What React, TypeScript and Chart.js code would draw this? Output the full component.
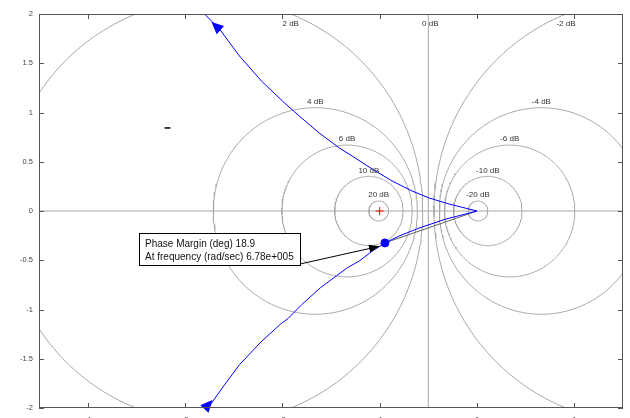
import { useEffect, useRef } from 'react';
import { Chart, registerables } from 'chart.js';

Chart.register(...registerables);

const FONT = '"Liberation Sans", Arial, Helvetica, sans-serif';

// axis ranges and ticks
const xRange = [-4.5, 1.5];
const yRange = [-2, 2];
const xTickValues = [-4, -3, -2, -1, 0, 1];
const yTickValues = [-2, -1.5, -1, -0.5, 0, 0.5, 1, 1.5, 2];

// M-circle grid (closed-loop magnitude contours, dB)
const mCircleDb = [20, 10, 6, 4, 2, 0, -2, -4, -6, -10, -20];

// Nyquist curve, branch from the origin to the top
const upperX = [-2.83, -2.8, -2.646, -2.441, -2.215, -2.0, -1.826, -1.621, -1.415, -1.282, -1.077, -0.872, -0.667, -0.492, -0.287, -0.082, 0];
const upperY = [2.04, 2.0, 1.848, 1.574, 1.32, 1.117, 0.964, 0.792, 0.64, 0.558, 0.426, 0.305, 0.203, 0.132, 0.071, 0.02, 0];

// branch from the origin to the bottom
const lowerX = [0, -0.082, -0.318, -0.595, -0.8, -0.946, -1.08, -1.21, -1.33, -1.446, -1.61, -1.8, -1.94, -2.02, -2.22, -2.44, -2.62, -2.72, -2.79];
const lowerY = [0, -0.022, -0.081, -0.173, -0.254, -0.324, -0.41, -0.508, -0.575, -0.66, -0.78, -0.95, -1.09, -1.15, -1.33, -1.56, -1.8, -1.94, -2.04];

// direction arrows on the curve: [tipX, tipY, tailX, tailY]
const upperArrow = [-2.728, 1.919, -2.626, 1.827];
const lowerArrow = [-2.718, -1.92, -2.8, -2.01];

// phase margin point
const pmX = [-0.946];
const pmY = [-0.324];
const pmLineX = [0, -0.946];
const pmLineY = [0, -0.324];
const pmText = ['Phase Margin (deg) 18.9', 'At frequency (rad/sec) 6.78e+005'];

// critical point
const critX = -1;
const critY = 0;

// small stray mark
const markX = [-3.21, -3.15];
const markY = [0.843, 0.843];

const pts = (xs: number[], ys: number[]) => xs.map((x, i) => ({ x, y: ys[i] }));

function mCircle(db: number) {
  const M = Math.pow(10, db / 20);
  const M2 = M * M;
  if (Math.abs(M2 - 1) < 1e-9) return null;
  return { c: -M2 / (M2 - 1), r: Math.abs(M / (M2 - 1)) };
}

function circlePoints(db: number) {
  const g = mCircle(db);
  if (!g) return [{ x: -0.5, y: -5 }, { x: -0.5, y: 5 }];
  const out: { x: number; y: number }[] = [];
  for (let a = 0; a <= 360; a += 1.5) {
    const t = (a * Math.PI) / 180;
    out.push({ x: g.c + g.r * Math.cos(t), y: g.r * Math.sin(t) });
  }
  return out;
}

function arrowHead(ctx: CanvasRenderingContext2D, tx: number, ty: number, fx: number, fy: number, len: number, hw: number) {
  const dx = tx - fx;
  const dy = ty - fy;
  const d = Math.hypot(dx, dy) || 1;
  const ux = dx / d;
  const uy = dy / d;
  const bx = tx - ux * len;
  const by = ty - uy * len;
  ctx.beginPath();
  ctx.moveTo(tx, ty);
  ctx.lineTo(bx - uy * hw, by + ux * hw);
  ctx.lineTo(bx + uy * hw, by - ux * hw);
  ctx.closePath();
  ctx.fill();
}

const overlay = {
  id: 'overlay',
  afterDatasetsDraw(chart: any) {
    const { ctx, chartArea: a, scales } = chart;
    const xs = scales.x;
    const ys = scales.y;
    const px = (v: number) => xs.getPixelForValue(v);
    const py = (v: number) => ys.getPixelForValue(v);
    ctx.save();

    // M-circle labels
    ctx.font = `8px ${FONT}`;
    ctx.fillStyle = '#333';
    ctx.textAlign = 'center';
    ctx.textBaseline = 'middle';
    mCircleDb.forEach((db) => {
      const label = `${db} dB`;
      const g = mCircle(db);
      if (!g) {
        ctx.fillText(label, px(-0.5) + 2, a.top + 10);
      } else if (g.r > yRange[1]) {
        const s = Math.sqrt(g.r * g.r - yRange[1] * yRange[1]);
        const xv = db > 0 ? g.c + s : g.c - s;
        ctx.fillText(label, px(xv), a.top + 10);
      } else {
        ctx.fillText(label, px(g.c), py(g.r) - 6);
      }
    });

    // critical point
    ctx.strokeStyle = '#ff0000';
    ctx.lineWidth = 1;
    const cx = px(critX);
    const cy = py(critY);
    ctx.beginPath();
    ctx.moveTo(cx - 4, cy);
    ctx.lineTo(cx + 4, cy);
    ctx.moveTo(cx, cy - 4);
    ctx.lineTo(cx, cy + 4);
    ctx.stroke();

    // curve direction arrows
    ctx.fillStyle = '#0000ff';
    [upperArrow, lowerArrow].forEach((ar) => {
      arrowHead(ctx, px(ar[0]), py(ar[1]), px(ar[2]), py(ar[3]), 12, 5.5);
    });

    // annotation box
    const dotX = px(pmX[0]);
    const dotY = py(pmY[0]);
    const bw = 161;
    const bh = 32;
    const bRight = Math.round(dotX - 85);
    const bBottom = Math.round(dotY + 22);
    const bLeft = bRight - bw;
    const bTop = bBottom - bh;
    // leader arrow
    const sx = bRight;
    const sy = bBottom - 1;
    const ddx = dotX - sx;
    const ddy = dotY - sy;
    const dd = Math.hypot(ddx, ddy);
    const tipX = dotX - (ddx / dd) * 6;
    const tipY = dotY - (ddy / dd) * 6 + 2;
    ctx.strokeStyle = '#000';
    ctx.fillStyle = '#000';
    ctx.lineWidth = 1;
    ctx.beginPath();
    ctx.moveTo(sx, sy);
    ctx.lineTo(tipX, tipY);
    ctx.stroke();
    arrowHead(ctx, tipX, tipY, sx, sy, 10, 4);

    ctx.fillStyle = '#fff';
    ctx.fillRect(bLeft, bTop, bw, bh);
    ctx.strokeStyle = '#000';
    ctx.strokeRect(bLeft + 0.5, bTop + 0.5, bw, bh);
    ctx.fillStyle = '#111';
    ctx.font = `10px ${FONT}`;
    ctx.textAlign = 'left';
    ctx.textBaseline = 'middle';
    ctx.fillText(pmText[0], bLeft + 6, bTop + 11);
    ctx.fillText(pmText[1], bLeft + 6, bTop + 24);

    // axes box
    ctx.strokeStyle = '#555';
    ctx.lineWidth = 1;
    ctx.strokeRect(Math.round(a.left) + 0.5, Math.round(a.top) + 0.5, Math.round(a.right - a.left) - 1, Math.round(a.bottom - a.top) - 1);
    // inward ticks
    const tl = 5;
    ctx.beginPath();
    xTickValues.forEach((v) => {
      const x = Math.round(px(v)) + 0.5;
      ctx.moveTo(x, a.top);
      ctx.lineTo(x, a.top + tl);
      ctx.moveTo(x, a.bottom);
      ctx.lineTo(x, a.bottom - tl);
    });
    yTickValues.forEach((v) => {
      const y = Math.round(py(v)) + 0.5;
      ctx.moveTo(a.left, y);
      ctx.lineTo(a.left + tl, y);
      ctx.moveTo(a.right, y);
      ctx.lineTo(a.right - tl, y);
    });
    ctx.stroke();
    ctx.restore();
  },
};

export default function App() {
  const ref = useRef<HTMLCanvasElement | null>(null);

  useEffect(() => {
    if (!ref.current) return;
    const gridColor = '#a8a8a8';
    const datasets: any[] = [];
    mCircleDb.forEach((db) => {
      datasets.push({
        data: circlePoints(db),
        showLine: true,
        borderColor: gridColor,
        borderWidth: 1,
        pointRadius: 0,
        order: 10,
      });
    });
    datasets.push({
      data: [{ x: -10, y: 0 }, { x: 10, y: 0 }],
      showLine: true,
      borderColor: gridColor,
      borderWidth: 1,
      pointRadius: 0,
      order: 10,
    });
    datasets.push({
      data: pts(pmLineX, pmLineY),
      showLine: true,
      borderColor: '#606060',
      borderWidth: 1,
      pointRadius: 0,
      order: 5,
    });
    datasets.push({
      data: pts(upperX, upperY),
      showLine: true,
      borderColor: '#0000ff',
      borderWidth: 1,
      pointRadius: 0,
      order: 2,
    });
    datasets.push({
      data: pts(lowerX, lowerY),
      showLine: true,
      borderColor: '#0000ff',
      borderWidth: 1,
      pointRadius: 0,
      order: 2,
    });
    datasets.push({
      data: pts(markX, markY),
      showLine: true,
      borderColor: '#000',
      borderWidth: 1.5,
      pointRadius: 0,
      order: 2,
    });
    datasets.push({
      data: pts(pmX, pmY),
      showLine: false,
      backgroundColor: '#0000ff',
      borderColor: '#0000ff',
      pointRadius: 4,
      order: 0,
    });

    const tickFont = { family: FONT, size: 7.5 };
    const chart = new Chart(ref.current, {
      type: 'scatter',
      data: { datasets },
      options: {
        animation: false,
        responsive: false,
        maintainAspectRatio: false,
        events: [],
        layout: { padding: { left: 0, right: 7, top: 14, bottom: 0 } },
        plugins: { legend: { display: false }, tooltip: { enabled: false } },
        scales: {
          x: {
            type: 'linear',
            min: xRange[0],
            max: xRange[1],
            afterBuildTicks: (s: any) => {
              s.ticks = xTickValues.map((v) => ({ value: v }));
            },
            afterFit: (s: any) => {
              s.height = 22;
            },
            grid: { display: false, drawTicks: false },
            border: { display: false },
            ticks: {
              padding: 7,
              color: '#444',
              font: tickFont,
              autoSkip: false,
              maxRotation: 0,
              callback: (v: any) => String(v),
            },
          },
          y: {
            type: 'linear',
            min: yRange[0],
            max: yRange[1],
            afterBuildTicks: (s: any) => {
              s.ticks = yTickValues.map((v) => ({ value: v }));
            },
            afterFit: (s: any) => {
              s.width = 39;
            },
            grid: { display: false, drawTicks: false },
            border: { display: false },
            ticks: {
              padding: 6,
              color: '#444',
              font: tickFont,
              autoSkip: false,
              callback: (v: any) => String(v),
            },
          },
        },
      } as any,
      plugins: [overlay as any],
    });
    return () => chart.destroy();
  }, []);

  return (
    <div style={{ position: 'fixed', left: 0, top: 0, width: 630, height: 418, overflow: 'hidden', background: '#fff' }}>
      <canvas ref={ref} width={630} height={430} style={{ width: 630, height: 430, display: 'block' }} />
    </div>
  );
}
